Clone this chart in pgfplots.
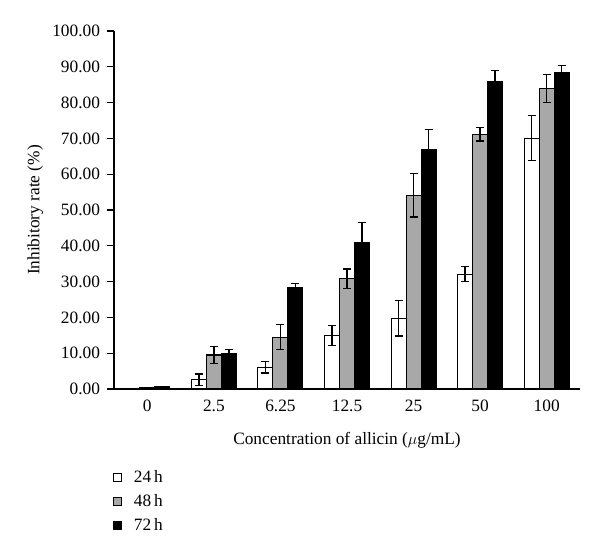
\documentclass[border=0pt]{standalone}
\usepackage{pgfplots}
\pgfplotsset{compat=1.18}
\usepackage{fontspec}
\setmainfont{Liberation Serif}
\definecolor{midgray}{RGB}{168,168,168}
\begin{document}
\begin{tikzpicture}
\useasboundingbox (-85.5pt,-126pt) rectangle (364.5pt,291.75pt);
\begin{axis}[
  at={(0,0)}, anchor=south west,
  scale only axis, width=349.5pt, height=268.5pt,
  xmin=-0.5, xmax=6.5, ymin=0, ymax=100,
  axis x line*=bottom, axis y line*=left,
  axis line style={line width=0.9pt, -},
  tick align=outside,
  ybar=0pt, bar width=11.25pt,
  xtick={0,...,6},
  xticklabels={0,2.5,6.25,12.5,25,50,100},
  x tick style={draw=none},
  extra x ticks={-0.5,0.5,1.5,2.5,3.5,4.5,5.5,6.5},
  extra x tick labels={},
  extra x tick style={major tick length=4pt, tick style={draw=black, line width=0.9pt}},
  ytick={0,10,...,100},
  y tick style={line width=0.9pt, black},
  major tick length=5pt,
  yticklabel style={xshift=-2pt, /pgf/number format/.cd, fixed, fixed zerofill, precision=2, assume math mode=true},
  tick label style={font=\fontsize{13}{15.6}\selectfont},
  label style={font=\fontsize{13}{15.6}\selectfont},
  xlabel={Concentration of allicin ($\mu$g/mL)},
  ylabel={Inhibitory rate (\%)},
  xlabel style={yshift=1pt},
  legend style={at={(0,0)}, anchor=north west, xshift=-4pt, yshift=-57pt, draw=none, fill=none,
    font=\fontsize{13}{15.6}\selectfont, row sep=3.4pt},
  legend cell align=left,
  legend image code/.code={\draw[#1, line width=0.6pt] (0pt,-3pt) rectangle (6pt,3pt); \path[draw=none, fill=none] (0pt,0pt) rectangle (13.5pt,0.1pt);},
  error bars/error bar style={line width=1pt, black},
  error bars/error mark options={rotate=90, mark size=3pt, line width=1pt, black},
]
\addplot[draw=black, line width=0.8pt, fill=white,
  error bars/.cd, y dir=both, y explicit]
  coordinates {(0,0.2) +- (0,0) (1,2.6) +- (0,1.6) (2,6.1) +- (0,1.6) (3,15.0) +- (0,2.8) (4,19.8) +- (0,5.0) (5,32.1) +- (0,2.1) (6,70.1) +- (0,6.3)};
\addplot[draw=black, line width=0.8pt, fill=midgray,
  error bars/.cd, y dir=both, y explicit]
  coordinates {(0,0.5) +- (0,0) (1,9.5) +- (0,2.4) (2,14.5) +- (0,3.5) (3,30.8) +- (0,2.7) (4,54.1) +- (0,6.1) (5,71.2) +- (0,1.9) (6,83.9) +- (0,3.9)};
\addplot[draw=black, line width=0.8pt, fill=black,
  error bars/.cd, y dir=both, y explicit]
  coordinates {(0,0.7) +- (0,0) (1,10.0) +- (0,1.0) (2,28.4) +- (0,1.0) (3,40.8) +- (0,5.8) (4,67.0) +- (0,5.5) (5,86.0) +- (0,2.9) (6,88.3) +- (0,2.1)};
\legend{24\,h, 48\,h, 72\,h}
\end{axis}
\end{tikzpicture}
\end{document}
